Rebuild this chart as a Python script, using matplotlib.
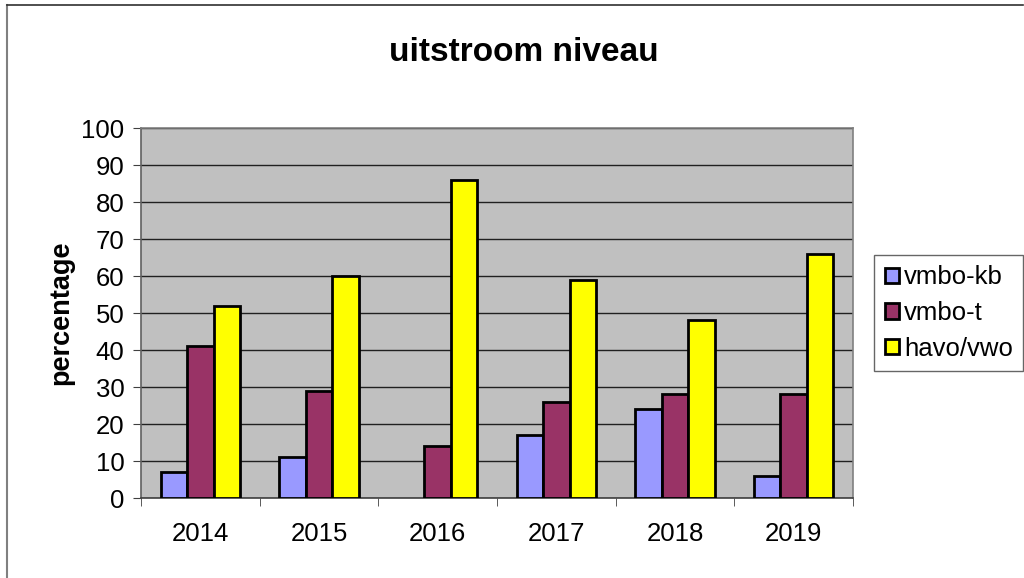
import numpy as np
import matplotlib
import matplotlib.pyplot as plt
from matplotlib.lines import Line2D

plt.rcParams['font.family'] = ['Liberation Sans', 'DejaVu Sans']

years = ['2014', '2015', '2016', '2017', '2018', '2019']
vmbo_kb = [7, 11, 0, 17, 24, 6]
vmbo_t = [41, 29, 14, 26, 28, 28]
havo_vwo = [52, 60, 86, 59, 48, 66]

series = [('vmbo-kb', vmbo_kb, '#9999FF'),
          ('vmbo-t', vmbo_t, '#993366'),
          ('havo/vwo', havo_vwo, '#FFFF00')]

fig = plt.figure(figsize=(10.24, 5.78), dpi=100)
ax = fig.add_axes([0.1377, 0.1384, 0.6953, 0.6401])
ax.set_facecolor('#C0C0C0')

x = np.arange(len(years))
w = 1 / 4.5
for i, (name, vals, col) in enumerate(series):
    lw = [2 if v > 0 else 0 for v in vals]
    ax.bar(x + (i - 1) * w, vals, width=w, color=col, edgecolor='black',
           linewidth=lw, label=name, zorder=3)

ax.set_xlim(-0.5, len(years) - 0.5)
ax.set_ylim(0, 100)
ax.set_yticks(range(0, 101, 10))
ax.tick_params(axis='y', labelsize=18.5, length=6, color='#404040', pad=6)
ax.set_xticks(x)
ax.set_xticklabels(years)
ax.tick_params(axis='x', labelsize=18.5, length=0, pad=17)
ax.set_xticks(np.arange(-0.5, len(years)), minor=True)
ax.tick_params(axis='x', which='minor', length=6, color='#404040')
ax.yaxis.grid(True, color='#202020', linewidth=1)
ax.set_axisbelow(True)
for s in ax.spines.values():
    s.set_color('#808080')
    s.set_linewidth(1.2)
ax.spines['left'].set_color('#606060')
ax.spines['bottom'].set_color('#404040')

ax.set_ylabel('percentage', fontsize=19.5, fontweight='bold', labelpad=5)
fig.text(0.512, 0.91, 'uitstroom niveau', ha='center', va='center',
         fontsize=24, fontweight='bold')

leg = ax.legend(loc='center left', bbox_to_anchor=(1.03, 0.5), fontsize=18.5,
                frameon=True, fancybox=False, handlelength=0.55, handleheight=0.55,
                handletextpad=0.2, labelspacing=0.45, borderpad=0.4,
                borderaxespad=0)
leg.get_frame().set_edgecolor('#404040')
leg.get_frame().set_linewidth(1)
for p in leg.get_patches():
    p.set_linewidth(2)

# outer chart border (only top and left visible)
fig.add_artist(Line2D([7 / 1024, 7 / 1024], [0, 1 - 5 / 578], color='#808080', linewidth=1.5))
fig.add_artist(Line2D([7 / 1024, 1023 / 1024], [1 - 5 / 578, 1 - 5 / 578], color='#303030', linewidth=1.2))

fig.savefig('out.png', dpi=100, facecolor='white')
